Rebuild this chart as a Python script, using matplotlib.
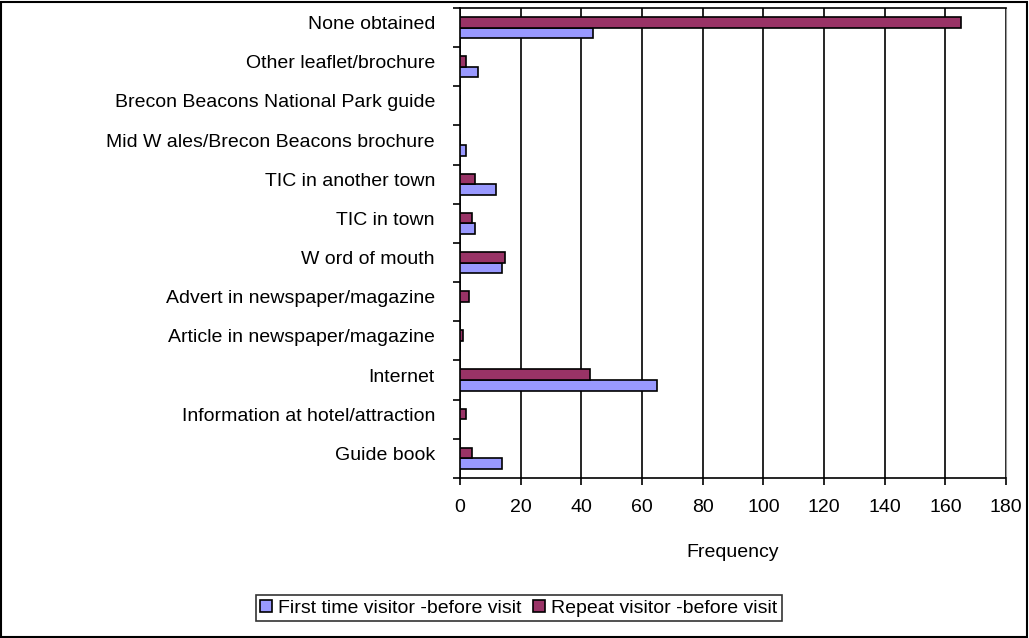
import numpy as np
import matplotlib.pyplot as plt
import matplotlib.transforms as mtransforms
from matplotlib.patches import Rectangle

plt.rcParams['font.family'] = ['Liberation Sans', 'DejaVu Sans']

# Categories listed bottom to top
categories = [
    "Guide book",
    "Information at hotel/attraction",
    "Internet",
    "Article in newspaper/magazine",
    "Advert in newspaper/magazine",
    "W ord of mouth",
    "TIC in town",
    "TIC in another town",
    "Mid W ales/Brecon Beacons brochure",
    "Brecon Beacons National Park guide",
    "Other leaflet/brochure",
    "None obtained",
]
first_time = [14, 0, 65, 0, 0, 14, 5, 12, 2, 0, 6, 44]
repeat = [4, 2, 43, 1, 3, 15, 4, 5, 0, 0, 2, 165]

x_ticks = list(range(0, 181, 20))

fig = plt.figure(figsize=(10.29, 6.38), dpi=100)
ax = fig.add_axes([0.447, 0.2508, 0.5307, 0.7367])

y = np.arange(len(categories))
h = 0.27
ax.barh(y - h / 2, first_time, height=h, color="#9999FF", edgecolor="black",
        linewidth=1.2, label="First time visitor -before visit", zorder=3)
ax.barh(y + h / 2, repeat, height=h, color="#993366", edgecolor="black",
        linewidth=1.2, label="Repeat visitor -before visit", zorder=3)

ax.set_xlim(0, 180)
ax.set_ylim(-0.5, len(categories) - 0.5)
ax.set_xticks(x_ticks)
ax.set_xticklabels([str(t) for t in x_ticks], fontsize=14)
ax.tick_params(axis="x", direction="out", length=5, width=1.2, pad=10)

ax.set_yticks(y)
ax.set_yticklabels(categories, fontsize=14)
ax.set_yticks(np.arange(-0.5, len(categories), 1), minor=True)
ax.tick_params(axis="y", which="major", length=0, pad=18)
ax.tick_params(axis="y", which="minor", direction="out", length=5, width=1.2)

# labels sit a little above the category centre, as in the original
shift = mtransforms.ScaledTranslation(0, 5 / 100, fig.dpi_scale_trans)
for lab in ax.get_yticklabels():
    lab.set_transform(lab.get_transform() + shift)

ax.grid(axis="x", color="black", linewidth=1.2, zorder=0)
for s in ["left", "bottom", "top"]:
    ax.spines[s].set_linewidth(1.2)
ax.spines["right"].set_color("#999999")

ax.set_xlabel("Frequency", fontsize=14, labelpad=20)

leg = fig.legend(loc="center", bbox_to_anchor=(0.504, 0.047), ncol=2,
                 fontsize=14, frameon=True, fancybox=False, handlelength=0.6,
                 handleheight=0.6, handletextpad=0.3, columnspacing=0.6,
                 borderpad=0.25)
leg.get_frame().set_edgecolor("black")
leg.get_frame().set_linewidth(1.2)

fig.patches.append(Rectangle((0.001, 0.002), 0.997, 0.995, transform=fig.transFigure,
                             fill=False, edgecolor="black", linewidth=1.5))

fig.savefig("out.png", dpi=100)
